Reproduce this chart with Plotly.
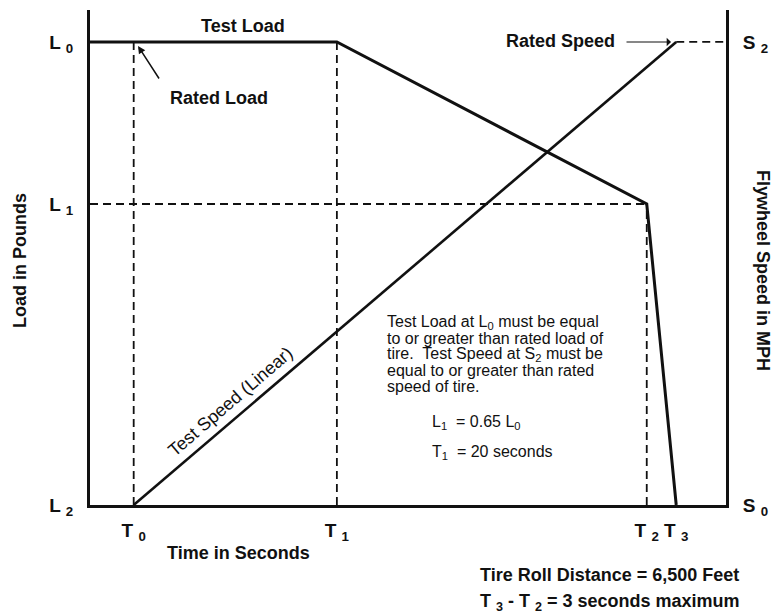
import plotly.graph_objects as go

# ---------------- data ----------------
time_labels = ["T <sub>0</sub>", "T <sub>1</sub>", "T <sub>2</sub>", "T <sub>3</sub>"]
time_values = [0, 20, 50.5, 53.4]          # seconds (T1 = 20 s, T3 - T2 = 3 s)
load_labels = ["L <sub>0</sub>", "L <sub>1</sub>", "L <sub>2</sub>"]
load_values = [100, 65, 0]                  # L1 = 0.65 L0
speed_labels = ["S <sub>2</sub>", "S <sub>0</sub>"]
speed_values = [100, 0]

x_range = [-4.3, 58.3]
y_range = [0, 106.9]

# Test load curve: held at L0 until T1, falls to L1 at T2, to L2 at T3
load_curve_t = [x_range[0], time_values[1], time_values[2], time_values[3]]
load_curve_v = [load_values[0], load_values[0], load_values[1], load_values[2]]
# Test speed: linear from S0 at T0 to S2 at T3
speed_curve_t = [time_values[0], time_values[3]]
speed_curve_v = [speed_values[1], speed_values[0]]

FONT = "Liberation Sans, Arial, sans-serif"
INK = "#111111"
W, H = 779, 615
ML, MR, MT, MB = 90, 53, 10, 110
PW, PH = W - ML - MR, H - MT - MB


def pxx(p):
    return (p - ML) / PW


def pxy(p):
    return (H - MB - p) / PH


def bold(labels):
    return [f"<b>{s}</b>" for s in labels]


fig = go.Figure()

dash = dict(color=INK, width=1.8, dash="8px,5px")
# dashed guides
fig.add_trace(go.Scatter(x=[time_values[0], time_values[0]], y=[load_values[2], load_values[0]],
                         mode="lines", line=dash, hoverinfo="skip"))
fig.add_trace(go.Scatter(x=[time_values[1], time_values[1]], y=[load_values[2], load_values[0]],
                         mode="lines", line=dash, hoverinfo="skip"))
fig.add_trace(go.Scatter(x=[time_values[2], time_values[2]], y=[load_values[2], load_values[1]],
                         mode="lines", line=dash, hoverinfo="skip"))
fig.add_trace(go.Scatter(x=[x_range[0], time_values[2]], y=[load_values[1], load_values[1]],
                         mode="lines", line=dash, hoverinfo="skip"))
fig.add_trace(go.Scatter(x=[time_values[3], x_range[1]], y=[speed_values[0], speed_values[0]],
                         mode="lines", line=dash, hoverinfo="skip", yaxis="y2"))

# test load
fig.add_trace(go.Scatter(x=load_curve_t, y=load_curve_v, mode="lines",
                         line=dict(color=INK, width=3), name="Test Load"))
# test speed
fig.add_trace(go.Scatter(x=speed_curve_t, y=speed_curve_v, mode="lines",
                         line=dict(color=INK, width=2.6), name="Test Speed", yaxis="y2"))

tickfont = dict(family=FONT, size=19, color=INK)
fig.update_layout(
    width=W, height=H, showlegend=False,
    margin=dict(l=ML, r=MR, t=MT, b=MB),
    paper_bgcolor="white", plot_bgcolor="white",
    font=dict(family=FONT, color=INK),
    xaxis=dict(range=x_range, showgrid=False, zeroline=False, showline=True,
               linecolor=INK, linewidth=3, tickvals=time_values, ticktext=bold(time_labels),
               ticks="", tickfont=tickfont, ticklabelstandoff=6),
    yaxis=dict(range=y_range, showgrid=False, zeroline=False, showline=True,
               linecolor=INK, linewidth=3, tickvals=load_values, ticktext=bold(load_labels),
               ticks="", tickfont=tickfont, ticklabelstandoff=10),
    yaxis2=dict(range=y_range, overlaying="y", side="right", showgrid=False, zeroline=False,
                showline=True, linecolor=INK, linewidth=3, tickvals=speed_values,
                ticktext=bold(speed_labels), ticks="", tickfont=tickfont, ticklabelstandoff=10),
)

ann = []


def text(x, y, s, size=18, is_bold=False, xanchor="left", yanchor="middle", angle=0):
    ann.append(dict(x=pxx(x), y=pxy(y), xref="paper", yref="paper",
                    text=(f"<b>{s}</b>" if is_bold else s),
                    showarrow=False, xanchor=xanchor, yanchor=yanchor, textangle=angle,
                    font=dict(family=FONT, size=size, color=INK)))


# axis titles
text(238, 553, "Time in Seconds", is_bold=True, xanchor="center")
text(20, 261, "Load in Pounds", is_bold=True, xanchor="center", angle=-90)
text(763, 270, "Flywheel Speed in MPH", is_bold=True, xanchor="center", angle=90)

# curve labels
text(243, 26, "Test Load", is_bold=True, xanchor="center")
text(168, 98, "Rated Load", is_bold=True)
text(617, 41, "Rated Speed", is_bold=True, xanchor="right")
text(230, 402, "Test Speed (Linear)", size=18, xanchor="center", angle=-40.6)

# arrows
ann.append(dict(x=pxx(138), y=pxy(46), xref="paper", yref="paper", ax=22, ay=34, text="",
                showarrow=True, arrowhead=2, arrowsize=1, arrowwidth=1.5, arrowcolor=INK))
ann.append(dict(x=pxx(671), y=pxy(42), xref="paper", yref="paper", ax=-46, ay=0, text="",
                showarrow=True, arrowhead=1, arrowsize=1.2, arrowwidth=1.2, arrowcolor=INK))

# note block
note_lines = [
    "Test Load at L<sub>0</sub> must be equal",
    "to or greater than rated load of",
    "tire.  Test Speed at S<sub>2</sub> must be",
    "equal to or greater than rated",
    "speed of tire.",
]
note_y = [322, 338, 354, 370, 386]
for s, y in zip(note_lines, note_y):
    text(385, y, s, size=16)
text(430, 422, "L<sub>1</sub>  = 0.65 L<sub>0</sub>", size=16)
text(430, 452, "T<sub>1</sub>  = 20 seconds", size=16)

# bottom notes
text(478, 575, "Tire Roll Distance = 6,500 Feet", is_bold=True)
text(478, 602, "T <sub>3</sub> - T <sub>2</sub> = 3 seconds maximum", is_bold=True)

fig.update_layout(annotations=ann)
fig.write_html("out.html", config={"displayModeBar": False},
               post_script="document.body.style.margin='0';document.body.style.overflow='hidden';")
